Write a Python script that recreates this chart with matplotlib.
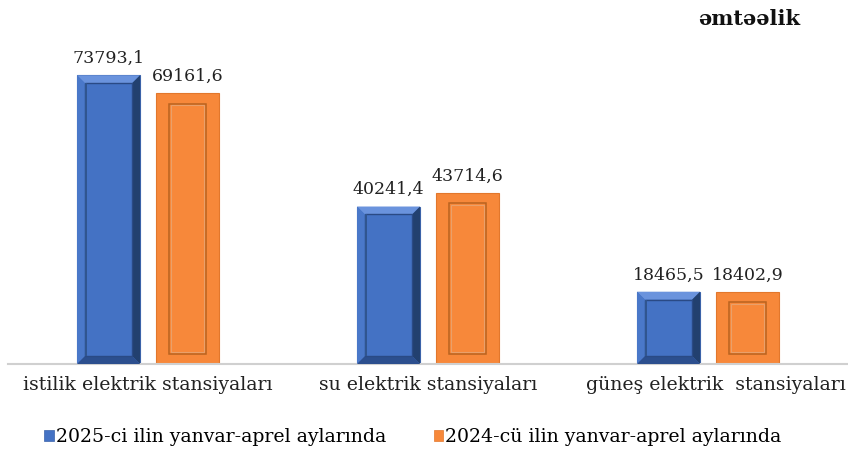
import matplotlib
matplotlib.use("Agg")
import matplotlib.pyplot as plt
import matplotlib.transforms as mtransforms
from matplotlib.patches import Polygon, Rectangle
import numpy as np

categories = ["istilik elektrik stansiyaları", "su elektrik stansiyaları", "güneş elektrik  stansiyaları"]
series_names = ["2025-ci ilin yanvar-aprel aylarında", "2024-cü ilin yanvar-aprel aylarında"]
values_2025 = [73793.1, 40241.4, 18465.5]
values_2024 = [69161.6, 43714.6, 18402.9]
labels_2025 = ["73793,1", "40241,4", "18465,5"]
labels_2024 = ["69161,6", "43714,6", "18402,9"]
title_text = "əmtəəlik"

plt.rcParams['font.family'] = ['DejaVu Serif', 'Liberation Serif']

fig = plt.figure(figsize=(8.48, 4.51), dpi=100)
ax = fig.add_axes([8/848, 1-364/451, 840/848, (364-51)/451])

x = np.arange(len(categories))
w = 0.225
off = 0.141
blue = "#4472C4"
orange = "#F7883A"

b1 = ax.bar(x - off, values_2025, w, color=blue, edgecolor="#3B63AA", linewidth=0.8, label=series_names[0], zorder=2)
b2 = ax.bar(x + off, values_2024, w, color=orange, edgecolor="#E2772C", linewidth=0.8, label=series_names[1], zorder=2)

ax.set_xlim(-0.5, 2.5)
ax.set_ylim(0, 80000)

dx = 0.028
dy = 2000
for p in b1:
    x0 = p.get_x(); x1 = x0 + p.get_width(); h = p.get_height()
    polys = [
        ([(x0, h), (x1, h), (x1 - dx, h - dy), (x0 + dx, h - dy)], "#6A93DD"),
        ([(x0, 0), (x0, h), (x0 + dx, h - dy), (x0 + dx, dy)], "#4A78C9"),
        ([(x1, 0), (x1, h), (x1 - dx, h - dy), (x1 - dx, dy)], "#22406F"),
        ([(x0, 0), (x1, 0), (x1 - dx, dy), (x0 + dx, dy)], "#2C4F8E"),
    ]
    for pts, c in polys:
        ax.add_patch(Polygon(pts, closed=True, facecolor=c, edgecolor="none", zorder=3))
    ax.add_patch(Rectangle((x0 + dx, dy), x1 - x0 - 2 * dx, h - 2 * dy, facecolor=blue,
                           edgecolor="#2A4A85", linewidth=1.0, zorder=3))
    ax.add_patch(Rectangle((x0 + dx, dy), 0.008, h - 2 * dy, facecolor="#30558F",
                           edgecolor="none", zorder=3))

dxo = 0.048
dyo = 2600
for p in b2:
    x0 = p.get_x(); x1 = x0 + p.get_width(); h = p.get_height()
    ax.add_patch(Rectangle((x0 + dxo, dyo), x1 - x0 - 2 * dxo, h - 2 * dyo, facecolor="none",
                           edgecolor="#B9631F", linewidth=1.1, zorder=3))
    ax.add_patch(Rectangle((x0 + dxo + 0.006, dyo + 400), x1 - x0 - 2 * dxo - 0.012, h - 2 * dyo - 800,
                           facecolor="none", edgecolor="#E9A06A", linewidth=0.8, zorder=3))

for p, t in zip(b1, labels_2025):
    ax.annotate(t, (p.get_x() + p.get_width() / 2, p.get_height()), xytext=(0, 6),
                textcoords="offset points", ha="center", va="bottom", fontsize=12.5, color="#222222")
for p, t in zip(b2, labels_2024):
    ax.annotate(t, (p.get_x() + p.get_width() / 2, p.get_height()), xytext=(0, 6),
                textcoords="offset points", ha="center", va="bottom", fontsize=12.5, color="#222222")

for s in ["top", "left", "right"]:
    ax.spines[s].set_visible(False)
ax.spines["bottom"].set_color("#D0D0D0")
ax.spines["bottom"].set_linewidth(1.5)
ax.set_yticks([])
ax.set_xticks(x)
ax.set_xticklabels(categories, fontsize=13.6, color="#222222")
ax.tick_params(axis="x", length=0, pad=9)
shift = mtransforms.ScaledTranslation(8 / 100, 0, fig.dpi_scale_trans)
lbl3 = ax.get_xticklabels()[2]
lbl3.set_transform(lbl3.get_transform() + shift)

fig.text(0.944, 0.958, title_text, ha="right", va="center", fontsize=15, fontweight="bold", color="#111111")

leg = fig.legend(handles=[b1, b2], labels=series_names, loc="center", bbox_to_anchor=(0.487, 0.03),
                 ncol=2, frameon=False, fontsize=13.6, handlelength=0.5, handleheight=0.5,
                 handletextpad=0.12, columnspacing=2.5)
for h in leg.legend_handles:
    h.set_linewidth(0.5)

fig.savefig("out.png", dpi=100)
